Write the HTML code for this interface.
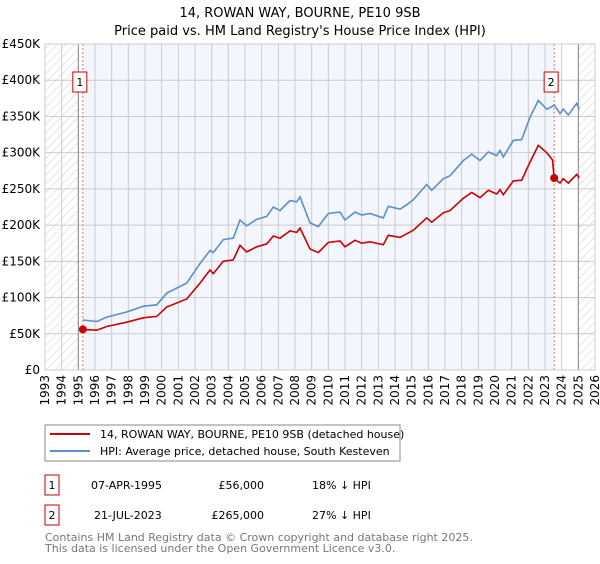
<!DOCTYPE html>
<html><head><meta charset="utf-8"><style>
body{margin:0;background:#fff;font-family:"DejaVu Sans","Liberation Sans",sans-serif;}
svg text{font-family:"DejaVu Sans","Liberation Sans",sans-serif;}
</style></head><body>
<svg id="chart" width="600" height="560" viewBox="0 0 600 560">
<defs>
<pattern id="hatch" patternUnits="userSpaceOnUse" width="6" height="6" patternTransform="rotate(45)">
<line x1="0" y1="0" x2="0" y2="6" stroke="#cfcfcf" stroke-width="1"/>
</pattern>
</defs>
<text x="300" y="17" text-anchor="middle" font-size="13">14, ROWAN WAY, BOURNE, PE10 9SB</text>
<text x="300" y="35" text-anchor="middle" font-size="13">Price paid vs. HM Land Registry's House Price Index (HPI)</text>
<g id="plot"></g>
<g>
<rect x="45" y="425" width="355" height="36" fill="#fff" stroke="#888"/>
<line x1="50" y1="434" x2="90" y2="434" stroke="#cc0000" stroke-width="2"/>
<text x="100" y="438" font-size="11">14, ROWAN WAY, BOURNE, PE10 9SB (detached house)</text>
<line x1="50" y1="451" x2="90" y2="451" stroke="#5b8fd0" stroke-width="2"/>
<text x="100" y="455" font-size="11">HPI: Average price, detached house, South Kesteven</text>
</g>
<g font-size="11">
<rect x="45" y="475" width="14" height="20" fill="#fff" stroke="#cc0000"/>
<text x="52" y="489" text-anchor="middle">1</text>
<text x="91" y="489">07-APR-1995</text>
<text x="264" y="489" text-anchor="end">£56,000</text>
<text x="312" y="489">18% ↓ HPI</text>
<rect x="45" y="505" width="14" height="20" fill="#fff" stroke="#cc0000"/>
<text x="52" y="519" text-anchor="middle">2</text>
<text x="94" y="519">21-JUL-2023</text>
<text x="264" y="519" text-anchor="end">£265,000</text>
<text x="312" y="519">27% ↓ HPI</text>
</g>
<text x="45" y="541" font-size="11" fill="#777">Contains HM Land Registry data © Crown copyright and database right 2025.</text>
<text x="45" y="552" font-size="11" fill="#777">This data is licensed under the Open Government Licence v3.0.</text>
</svg>
<script>
const hpiYears=[1995.27,1996.1,1996.7,1997.9,1998.9,1999.7,2000.3,2001.5,2002.3,2002.9,2003.1,2003.7,2004.3,2004.7,2005.1,2005.7,2006.3,2006.7,2007.1,2007.7,2008.1,2008.3,2008.9,2009.4,2010.0,2010.7,2011.0,2011.6,2012.0,2012.5,2013.3,2013.6,2014.3,2014.7,2015.1,2015.9,2016.2,2016.9,2017.3,2018.1,2018.6,2019.1,2019.6,2020.1,2020.3,2020.5,2021.1,2021.6,2022.1,2022.6,2023.1,2023.45,2023.55,2023.9,2024.1,2024.4,2024.9,2025.05];
const hpiValues=[69,67,73,80,88,90,106,120,147,165,162,180,182,207,199,208,212,225,220,234,232,239,203,198,216,218,207,218,214,216,210,226,222,228,235,256,248,264,268,289,298,289,301,296,303,294,317,318,349,372,360,364,366,354,360,352,368,360];
const propValues=[56,55,60,66,72,74,87,98,120,138,133,150,152,172,163,170,174,185,182,192,190,196,167,162,176,178,170,179,175,177,173,186,183,188,193,210,204,217,220,237,245,238,248,243,249,242,261,262,287,310,300,290,265,258,264,258,270,265];
const saleYears=[1995.27,2023.55];
const salePrices=[56,265];
const saleLabels=["1","2"];
const yTicks=[0,50,100,150,200,250,300,350,400,450];
const yTickLabels=["£0","£50K","£100K","£150K","£200K","£250K","£300K","£350K","£400K","£450K"];
const xTicks=[1993,1994,1995,1996,1997,1998,1999,2000,2001,2002,2003,2004,2005,2006,2007,2008,2009,2010,2011,2012,2013,2014,2015,2016,2017,2018,2019,2020,2021,2022,2023,2024,2025,2026];

const X0=45,X1=595,Y0=370,Y1=44;
const xs=y=>X0+(y-1993)/(2026-1993)*(X1-X0);
const ys=v=>Y0-v/450*(Y0-Y1);
const NS="http://www.w3.org/2000/svg";
const g=document.getElementById('plot');
function mk(t,a){const e=document.createElementNS(NS,t);for(const k in a)e.setAttribute(k,a[k]);g.appendChild(e);return e;}
let e;
e=mk('rect',{x:X0,y:Y1,width:X1-X0,height:Y0-Y1,fill:'#fff'});


e=mk('rect',{x:xs(saleYears[0]),y:Y1,width:xs(saleYears[1])-xs(saleYears[0]),height:Y0-Y1,fill:'#f3f6fd'});


e=mk('rect',{x:X0,y:Y1,width:xs(1995)-X0,height:Y0-Y1,fill:'url(#hatch)'});


e=mk('rect',{x:xs(2025),y:Y1,width:X1-xs(2025),height:Y0-Y1,fill:'url(#hatch)'});


xTicks.forEach((t,i)=>{
 e=mk('line',{x1:xs(t),x2:xs(t),y1:Y1,y2:Y0,stroke:'#ccc','stroke-width':1});
 
 
 const tx=xs(t)+4, ty=375;
 e=mk('text',{x:tx,y:ty,'text-anchor':'end','font-size':12,transform:'rotate(-90 '+tx+' '+ty+')'});
 e.textContent=t;
 
 
});
yTicks.forEach((t,i)=>{
 e=mk('line',{x1:X0,x2:X1,y1:ys(t),y2:ys(t),stroke:'#ccc','stroke-width':1});
 
 
 e=mk('text',{x:40,y:ys(t)+4,'text-anchor':'end','font-size':12});
 e.textContent=yTickLabels[i];
 
 
});
e=mk('line',{x1:xs(1995),x2:xs(1995),y1:Y1,y2:Y0,stroke:'#888'});


e=mk('line',{x1:xs(2025),x2:xs(2025),y1:Y1,y2:Y0,stroke:'#888'});


saleYears.forEach((s,i)=>{
 e=mk('line',{x1:xs(s),x2:xs(s),y1:Y1,y2:Y0,stroke:'#f07070','stroke-dasharray':'2,2'});
 
 
});
const pts=v=>hpiYears.map((y,i)=>xs(y).toFixed(1)+','+ys(v[i]).toFixed(1)).join(' ');
e=mk('polyline',{points:pts(hpiValues),fill:'none',stroke:'#5b8fd0','stroke-width':1.6});


e=mk('polyline',{points:pts(propValues),fill:'none',stroke:'#cc0000','stroke-width':1.6});


saleYears.forEach((s,i)=>{
 e=mk('circle',{cx:xs(s),cy:ys(salePrices[i]),r:4,fill:'#cc0000'});
 
 
 e=mk('rect',{x:xs(s)-10,y:72,width:14,height:20,fill:'#fff',stroke:'#cc0000'});
 
 
 e=mk('text',{x:xs(s)-3,y:86,'text-anchor':'middle','font-size':11});
 e.textContent=saleLabels[i];
 
 
});
e=mk('rect',{x:X0,y:Y1,width:X1-X0,height:Y0-Y1,fill:'none',stroke:'#ccc'});


</script>
</body></html>
